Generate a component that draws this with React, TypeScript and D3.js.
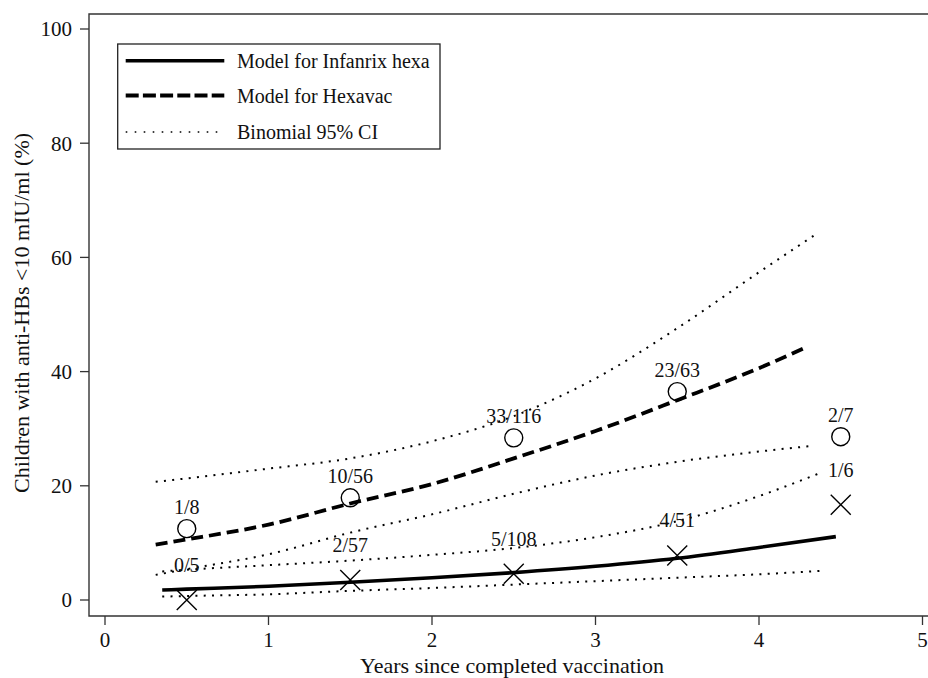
import React from "react";
import * as d3 from "d3";

// ---- data ----
const xTicks = [0, 1, 2, 3, 4, 5];
const yTicks = [0, 20, 40, 60, 80, 100];

const timePoints = [0.5, 1.5, 2.5, 3.5, 4.5];
const hexavacLabels = ["1/8", "10/56", "33/116", "23/63", "2/7"];
const hexavacPct = [12.5, 17.9, 28.4, 36.5, 28.6];
const infanrixLabels = ["0/5", "2/57", "5/108", "4/51", "1/6"];
const infanrixPct = [0, 3.5, 4.6, 7.8, 16.7];

const hexavacModelX = [0.31, 0.5, 1.0, 1.5, 2.0, 2.5, 3.0, 3.5, 4.0, 4.3];
const hexavacModelY = [9.7, 10.6, 13.2, 16.9, 20.3, 24.8, 29.6, 35.0, 40.6, 44.4];

const infanrixModelX = [0.35, 0.5, 1.0, 1.5, 2.0, 2.5, 3.0, 3.5, 4.0, 4.47];
const infanrixModelY = [1.75, 1.9, 2.4, 3.1, 3.9, 4.8, 5.9, 7.3, 9.2, 11.1];

const hexavacUpperX = [0.31, 0.5, 1.0, 1.5, 2.0, 2.5, 3.0, 3.5, 4.0, 4.34];
const hexavacUpperY = [20.7, 21.3, 23.0, 24.8, 27.8, 32.2, 38.8, 47.6, 57.4, 63.9];

const hexavacLowerX = [0.31, 0.5, 1.0, 1.5, 2.0, 2.5, 3.0, 3.5, 4.0, 4.33];
const hexavacLowerY = [4.4, 5.4, 8.0, 11.8, 15.0, 18.6, 21.8, 24.2, 26.0, 27.0];

const infanrixUpperX = [0.35, 0.5, 1.0, 1.5, 2.0, 2.5, 3.0, 3.5, 4.0, 4.37];
const infanrixUpperY = [5.0, 5.3, 6.1, 6.9, 7.9, 9.1, 11.0, 13.8, 18.2, 22.2];

const infanrixLowerX = [0.35, 0.5, 1.0, 1.5, 2.0, 2.5, 3.0, 3.5, 4.0, 4.38];
const infanrixLowerY = [0.6, 0.7, 1.0, 1.6, 2.1, 2.7, 3.3, 3.9, 4.5, 5.1];

const legendLabels = ["Model for Infanrix hexa", "Model for Hexavac", "Binomial 95% CI"];

const FONT = '"Liberation Serif", "Times New Roman", Times, serif';

export default function App() {
  const W = 928;
  const H = 678;
  const frame = { left: 89, top: 14, bottom: 616, right: 932 };
  const x = d3.scaleLinear().domain([0, 5]).range([105, 922.5]);
  const y = d3.scaleLinear().domain([0, 100]).range([600, 29]);

  const line = (xs: number[], ys: number[]) =>
    d3
      .line<number>()
      .x((_, i) => x(xs[i]))
      .y((d) => y(d))
      .curve(d3.curveMonotoneX)(ys) || "";

  const dotted = { stroke: "#000", strokeWidth: 2, fill: "none", strokeDasharray: "2 6.3" };
  const ink = "#111";

  return (
    <svg
      width={W}
      height={H}
      style={{ position: "absolute", left: 0, top: 0, background: "#fff" }}
      fontFamily={FONT}
    >
      {/* frame */}
      <path
        d={`M${frame.right},${frame.top}H${frame.left}V${frame.bottom}H${frame.right}`}
        fill="none"
        stroke="#333"
        strokeWidth={1.4}
      />
      {/* y axis */}
      {yTicks.map((t) => (
        <g key={"y" + t}>
          <line x1={80} x2={frame.left} y1={y(t)} y2={y(t)} stroke="#333" strokeWidth={1.3} />
          <text x={72} y={y(t)} dy="0.35em" textAnchor="end" fontSize={21} fill={ink}>
            {t}
          </text>
        </g>
      ))}
      {/* x axis */}
      {xTicks.map((t) => (
        <g key={"x" + t}>
          <line x1={x(t)} x2={x(t)} y1={frame.bottom} y2={625} stroke="#333" strokeWidth={1.3} />
          <text x={x(t)} y={647} textAnchor="middle" fontSize={21} fill={ink}>
            {t}
          </text>
        </g>
      ))}
      <text x={512} y={673} textAnchor="middle" fontSize={22} fill={ink}>
        Years since completed vaccination
      </text>
      <text
        transform="translate(28.5,313) rotate(-90)"
        textAnchor="middle"
        fontSize={22}
        fill={ink}
      >
        Children with anti-HBs &lt;10 mIU/ml (%)
      </text>

      {/* CI lines */}
      <path d={line(hexavacUpperX, hexavacUpperY)} {...dotted} />
      <path d={line(hexavacLowerX, hexavacLowerY)} {...dotted} />
      <path d={line(infanrixUpperX, infanrixUpperY)} {...dotted} />
      <path d={line(infanrixLowerX, infanrixLowerY)} {...dotted} />

      {/* models */}
      <path
        d={line(hexavacModelX, hexavacModelY)}
        fill="none"
        stroke="#000"
        strokeWidth={3.8}
        strokeDasharray="12 6"
      />
      <path d={line(infanrixModelX, infanrixModelY)} fill="none" stroke="#000" strokeWidth={3.6} />

      {/* observed points */}
      {timePoints.map((t, i) => (
        <g key={"h" + i}>
          <circle cx={x(t)} cy={y(hexavacPct[i])} r={9} fill="none" stroke="#000" strokeWidth={1.4} />
          <text x={x(t)} y={y(hexavacPct[i]) - 15} textAnchor="middle" fontSize={20} fill={ink}>
            {hexavacLabels[i]}
          </text>
        </g>
      ))}
      {timePoints.map((t, i) => {
        const cx = x(t);
        const cy = y(infanrixPct[i]);
        const s = 10;
        return (
          <g key={"i" + i}>
            <path
              d={`M${cx - s},${cy - s}L${cx + s},${cy + s}M${cx - s},${cy + s}L${cx + s},${cy - s}`}
              stroke="#000"
              strokeWidth={1.4}
            />
            <text x={cx} y={cy - 28} textAnchor="middle" fontSize={20} fill={ink}>
              {infanrixLabels[i]}
            </text>
          </g>
        );
      })}

      {/* legend */}
      <rect x={117.7} y={44} width={322.3} height={105} fill="#fff" stroke="#222" strokeWidth={1.3} />
      {legendLabels.map((lab, i) => {
        const ly = [60.7, 95.5, 132][i];
        const style =
          i === 0
            ? { stroke: "#000", strokeWidth: 3.6 }
            : i === 1
            ? { stroke: "#000", strokeWidth: 3.8, strokeDasharray: "13 4.2" }
            : { stroke: "#000", strokeWidth: 1.6, strokeDasharray: "1.6 7.4" };
        return (
          <g key={lab}>
            <line x1={125.7} x2={224.3} y1={ly} y2={ly} {...style} />
            <text x={237} y={ly} dy="0.35em" fontSize={20} fill={ink}>
              {lab}
            </text>
          </g>
        );
      })}
    </svg>
  );
}
